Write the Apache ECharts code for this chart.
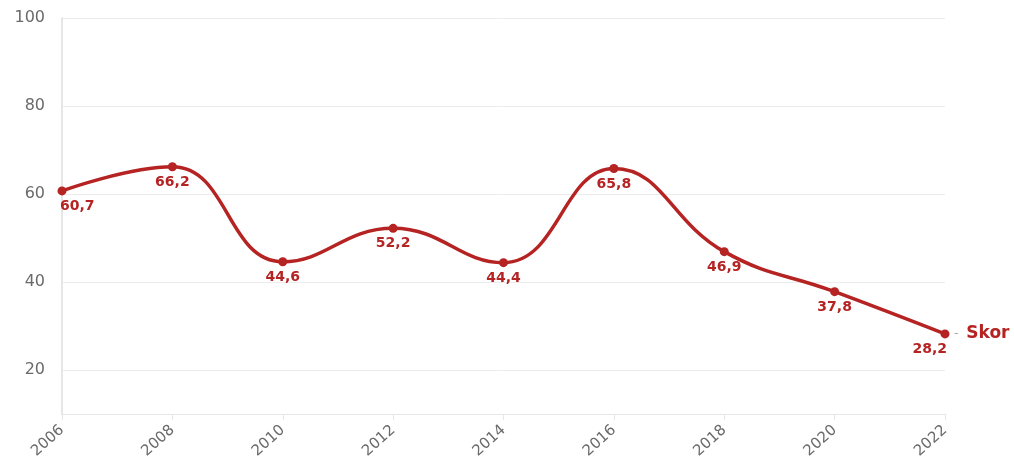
<!DOCTYPE html>
<html><head><meta charset="utf-8">
<script src="https://cdn.jsdelivr.net/npm/echarts@6/dist/echarts.min.js"></script>
<style>html,body{margin:0;padding:0;background:#fff}#c{width:1014px;height:457px}</style>
</head><body><div id="c"></div>
<script>
const years = ['2006','2008','2010','2012','2014','2016','2018','2020','2022'];
const scores = [60.7, 66.2, 44.6, 52.2, 44.4, 65.8, 46.9, 37.8, 28.2];
const yTicks = [20, 40, 60, 80, 100];
const seriesName = 'Skor';

const red = '#b52323';
const fmt = v => String(v).replace('.', ',');
const data = scores.map((v, i) => {
  const item = { value: v };
  if (i === 0) item.label = { align: 'left', offset: [-2, 0] };
  if (i === scores.length - 1) item.label = { align: 'right', offset: [2, 0] };
  return item;
});

const chart = echarts.init(document.getElementById('c'));
chart.setOption({
  animation: false,
  textStyle: { fontFamily: 'DejaVu Sans' },
  grid: { left: 62, right: 69, top: 18, bottom: 43, outerBoundsMode: 'none', containLabel: false },
  xAxis: {
    type: 'category', data: years, boundaryGap: false,
    axisLine: { lineStyle: { color: '#e6e6e6', width: 1 } },
    axisTick: { show: true, length: 6, lineStyle: { color: '#e6e6e6' } },
    axisLabel: { rotate: 42, color: '#6a6a6a', fontSize: 15, margin: 14, fontFamily: 'DejaVu Sans' },
    splitLine: { show: false }
  },
  yAxis: {
    type: 'value', min: 10, max: 100, interval: 10,
    axisLine: { show: true, lineStyle: { color: '#e6e6e6', width: 2 } },
    axisTick: { show: false },
    axisLabel: { color: '#6a6a6a', fontSize: 16, margin: 17,
      formatter: v => (yTicks.indexOf(v) >= 0 ? String(v) : '') },
    splitLine: { show: false }
  },
  series: [{
    name: seriesName, type: 'line', data: data, smooth: 0.45,
    symbol: 'circle', symbolSize: 9,
    lineStyle: { color: red, width: 3.5 },
    itemStyle: { color: red },
    label: { show: true, position: 'bottom', distance: 4, color: red, fontWeight: 'bold', fontSize: 14,
      fontFamily: 'DejaVu Sans', formatter: p => fmt(p.value) },
    endLabel: { show: true, distance: 9, fontFamily: 'DejaVu Sans',
      formatter: '{d|-}  {s|' + seriesName + '}',
      rich: {
        d: { color: '#aaa', fontSize: 13 },
        s: { color: red, fontWeight: 'bold', fontSize: 17, fontFamily: 'DejaVu Sans' }
      } },
    markLine: {
      silent: true, symbol: 'none', label: { show: false }, z: 0,
      lineStyle: { color: '#ececec', type: 'solid', width: 1 },
      data: yTicks.map(v => ({ yAxis: v }))
    }
  }]
});
</script></body></html>
